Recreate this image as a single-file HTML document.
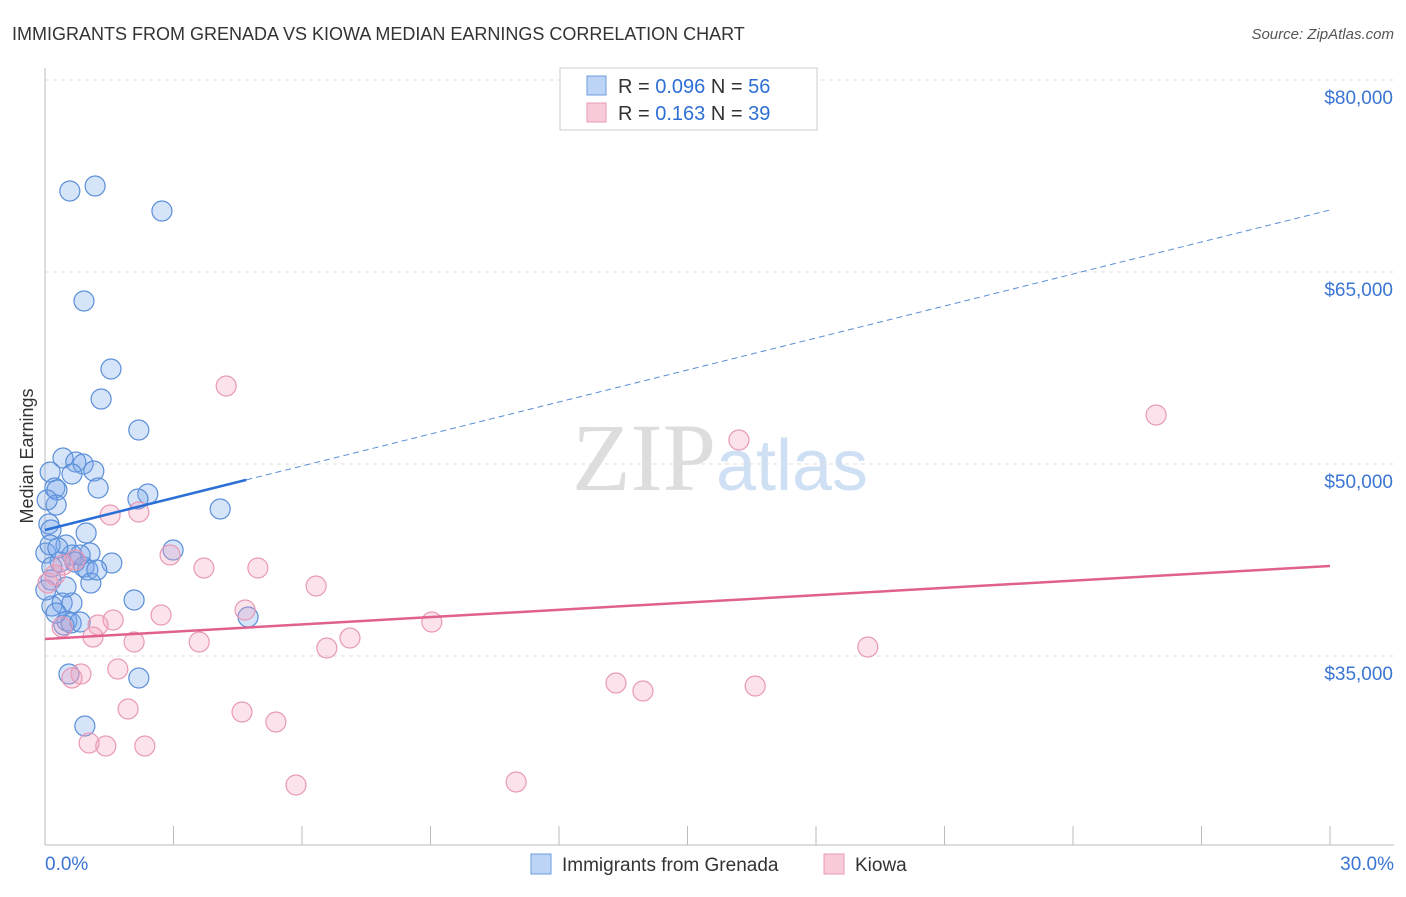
<!DOCTYPE html>
<html><head><meta charset="utf-8"><style>
body{margin:0;background:#fff;font-family:"Liberation Sans",sans-serif}
</style></head><body>
<svg width="1406" height="892" xmlns="http://www.w3.org/2000/svg" id="svg" style="font-family:'Liberation Sans',sans-serif">
<text x="12" y="40" font-size="18" fill="#333">IMMIGRANTS FROM GRENADA VS KIOWA MEDIAN EARNINGS CORRELATION CHART</text>
<text x="1394" y="39" font-size="15" fill="#555" text-anchor="end" font-style="italic">Source: ZipAtlas.com</text>
<text x="720" y="490" font-size="96" text-anchor="middle" fill="#ddd" font-family="Liberation Serif">ZIP<tspan fill="#cfe0f5" font-family="Liberation Sans" font-size="72">atlas</tspan></text>
<text transform="translate(33,456) rotate(-90)" font-size="18" fill="#333" text-anchor="middle">Median Earnings</text>
<g id="grid"></g><g id="marks"></g>
<g>
<rect x="560" y="68" width="257" height="62" fill="#fff" stroke="#ccc"/>
<rect x="587" y="76" width="19" height="19" fill="#bcd4f5" stroke="#6c9be0"/>
<rect x="587" y="103" width="19" height="19" fill="#f9cad8" stroke="#e89ab5"/>
<text x="618" y="93" font-size="20" fill="#333">R = <tspan fill="#2e6fd6">0.096</tspan>   N = <tspan fill="#2e6fd6">56</tspan></text>
<text x="618" y="120" font-size="20" fill="#333">R =  <tspan fill="#2e6fd6">0.163</tspan>   N = <tspan fill="#2e6fd6">39</tspan></text>
</g>
<g>
<rect x="531" y="854" width="20" height="20" fill="#bcd4f5" stroke="#6c9be0"/>
<text x="562" y="871" font-size="19" fill="#333">Immigrants from Grenada</text>
<rect x="824" y="854" width="20" height="20" fill="#f9cad8" stroke="#e89ab5"/>
<text x="855" y="871" font-size="19" fill="#333">Kiowa</text>
</g>
</svg>
<script>
const yTicks=[35000,50000,65000,80000];
const yTickLabels=["$35,000","$50,000","$65,000","$80,000"];
const xTickLabels=["0.0%","30.0%"];
const blueX=[0.58,1.17,2.73,0.91,1.54,1.31,2.19,0.42,0.12,0.72,0.89,1.14,0.63,0.23,0.28,1.24,2.40,2.17,0.26,4.09,0.09,0.14,0.96,0.02,0.49,0.63,1.05,0.35,0.70,0.91,1.56,0.16,1.00,1.07,2.99,0.14,0.16,0.40,0.63,2.08,0.51,0.44,0.61,4.74,0.56,2.19,0.93,0.05,0.12,0.30,0.02,0.82,1.21,0.49,0.26,0.82];
const blueY=[71328,71719,69766,62734,57422,55078,52656,50469,49375,50156,50000,49453,49219,48125,47969,48125,47656,47266,46797,46484,45313,44844,44609,43047,43672,42891,43047,42344,42344,41953,42266,41953,41719,40703,43281,40938,38906,39141,39141,39375,37734,37422,37578,38047,33594,33281,29531,47188,43672,43438,40156,42891,41719,40391,38359,37656];
const pinkX=[4.23,25.94,16.20,1.52,2.19,2.92,3.71,4.97,6.33,2.71,4.67,9.03,1.59,1.24,0.40,1.12,2.08,3.60,6.58,7.12,19.21,1.70,0.84,0.63,13.33,13.96,16.58,1.94,4.60,5.39,1.03,1.42,2.33,5.86,11.00,0.07,0.23,0.42,0.70];
const pinkY=[56094,53828,51875,46016,46250,42891,41875,41875,40469,38203,38594,37656,37813,37422,37266,36484,36094,36094,35625,36406,35703,33984,33594,33281,32891,32266,32656,30859,30625,29844,28203,27969,27969,24922,25156,40703,41328,42109,42500];
const blueTrend=[44844,69844];
const pinkTrend=[36328,42031];
const NS="http://www.w3.org/2000/svg";
const X=v=>45+v/30*1285, Y=v=>80+(80000-v)*0.0128;
function mk(t,a,p){const e=document.createElementNS(NS,t);for(const k in a)e.setAttribute(k,a[k]);p.appendChild(e);return e;}
const g=document.getElementById('grid'),m=document.getElementById('marks');
let ax=mk('line',{x1:45,y1:68,x2:45,y2:845,stroke:'#bbb'},g);

let bx=mk('line',{x1:45,y1:845,x2:1394,y2:845,stroke:'#bbb'},g);

for(let i=1;i<=10;i++){let t=mk('line',{x1:X(i*3),y1:826,x2:X(i*3),y2:845,stroke:'#bbb'},g);
}
yTicks.forEach((v,i)=>{let l=mk('line',{x1:45,y1:Y(v),x2:1394,y2:Y(v),stroke:'#ddd','stroke-dasharray':'4,4'},g);

let t=mk('text',{x:1393,y:Y(v)+24,'font-size':19,fill:'#3a75d4','text-anchor':'end'},g);t.textContent=yTickLabels[i];
});
[[0,45,'start'],[30,1394,'end']].forEach((d,i)=>{let t=mk('text',{x:d[1],y:870,'font-size':19,fill:'#3a75d4','text-anchor':d[2]},g);t.textContent=xTickLabels[i];
});
blueX.forEach((x,i)=>{let c=mk('circle',{cx:X(x),cy:Y(blueY[i]),r:10,fill:'rgba(120,165,235,0.3)',stroke:'#5b8fd8','stroke-width':1.2},m);
});
pinkX.forEach((x,i)=>{let c=mk('circle',{cx:X(x),cy:Y(pinkY[i]),r:10,fill:'rgba(245,160,190,0.3)',stroke:'#e89ab5','stroke-width':1.2},m);
});
const bAt=x=>blueTrend[0]+(blueTrend[1]-blueTrend[0])*x/30;
let bs=mk('line',{x1:X(0),y1:Y(bAt(0)),x2:X(4.7),y2:Y(bAt(4.7)),stroke:'#2a6fd6','stroke-width':2.5},m);

let bd=mk('line',{x1:X(4.7),y1:Y(bAt(4.7)),x2:X(30),y2:Y(bAt(30)),stroke:'#5b8fd8','stroke-width':1,'stroke-dasharray':'6,4'},m);

let pl=mk('line',{x1:X(0),y1:Y(pinkTrend[0]),x2:X(30),y2:Y(pinkTrend[1]),stroke:'#e0608f','stroke-width':2.5},m);

</script>
</body></html>
